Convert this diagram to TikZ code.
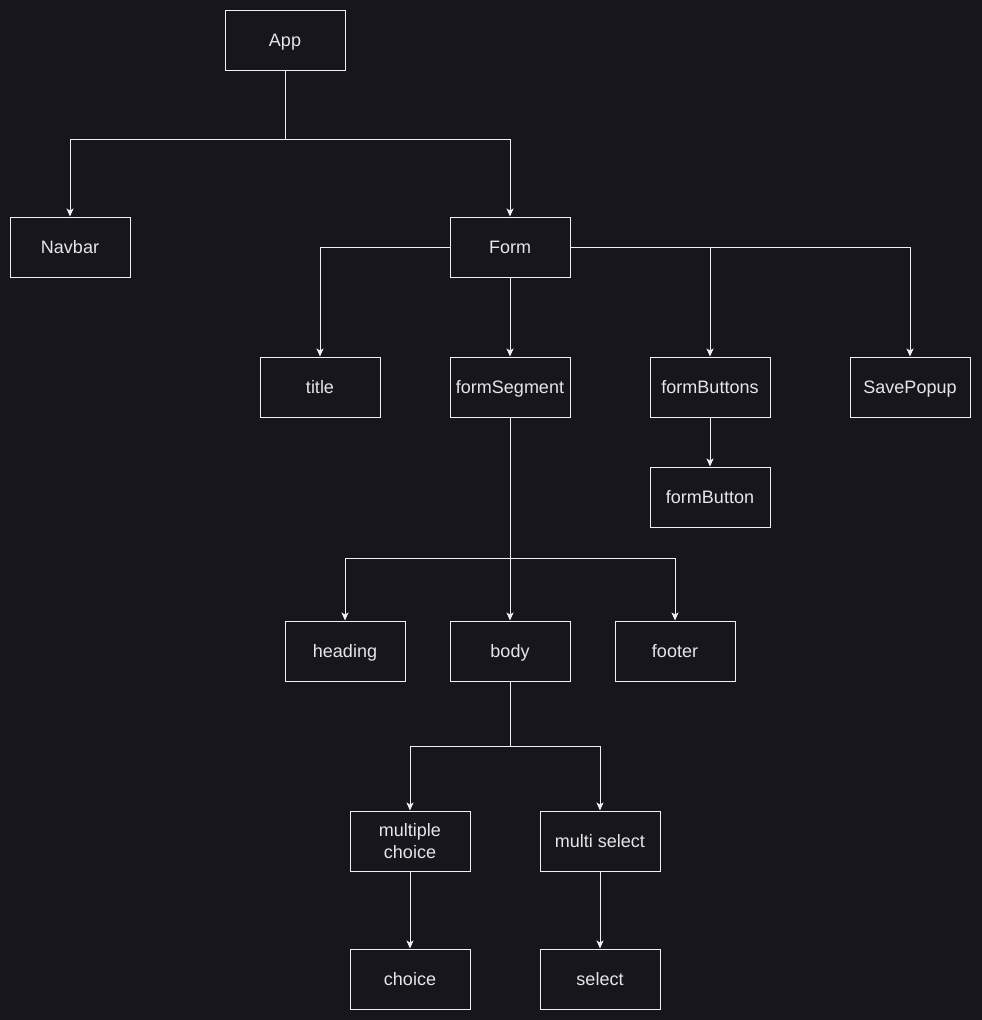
\documentclass[tikz,border=0pt]{standalone}
\usepackage{fontspec}
\setmainfont{Liberation Sans}
\usetikzlibrary{arrows.meta}
\definecolor{bg}{HTML}{18161D}
\definecolor{fg}{HTML}{F0F0F0}
\definecolor{txt}{HTML}{E6E6E6}
\begin{document}
\begin{tikzpicture}[x=1pt,y=-1pt,
  box/.style={draw=fg,line width=1pt,minimum width=120pt,minimum height=60pt,inner sep=0pt,text=txt,font=\fontsize{18}{22}\selectfont,align=center,text height=14pt,text depth=1pt},
  conn/.style={draw=fg,line width=1pt,-{Stealth[length=8pt,width=7pt,inset=2pt]}},
  plain/.style={draw=fg,line width=1pt}]
\fill[bg] (0,0) rectangle (982,1020);
\useasboundingbox (0,0) rectangle (982,1020);
\node[box] (app) at (285,40) {App};
\node[box] (navbar) at (70,247) {Navbar};
\node[box] (form) at (510,247) {Form};
\node[box] (title) at (320,387) {title};
\node[box] (seg) at (510,387) {formSegment};
\node[box] (btns) at (710,387) {formButtons};
\node[box] (save) at (910,387) {SavePopup};
\node[box] (btn) at (710,497) {formButton};
\node[box] (heading) at (345,651) {heading};
\node[box] (body) at (510,651) {body};
\node[box] (footer) at (675,651) {footer};
\node[box,text height=,text depth=] (mc) at (410,841) {multiple\\choice};
\node[box] (ms) at (600,841) {multi select};
\node[box] (choice) at (410,979) {choice};
\node[box] (select) at (600,979) {select};
\coordinate (j1) at (285,139);
\coordinate (j2) at (510,558);
\coordinate (j3) at (510,746);
\draw[plain] (app.south) -- (j1);
\draw[conn] (j1) -| (navbar.north);
\draw[conn] (j1) -| (form.north);
\draw[conn] (form.west) -| (title.north);
\draw[conn] (form.south) -- (seg.north);
\draw[conn] (form.east) -| (btns.north);
\draw[conn] (form.east) -| (save.north);
\draw[conn] (btns.south) -- (btn.north);
\draw[plain] (seg.south) -- (j2);
\draw[conn] (j2) -| (heading.north);
\draw[conn] (j2) -- (body.north);
\draw[conn] (j2) -| (footer.north);
\draw[plain] (body.south) -- (j3);
\draw[conn] (j3) -| (mc.north);
\draw[conn] (j3) -| (ms.north);
\draw[conn] (mc.south) -- (choice.north);
\draw[conn] (ms.south) -- (select.north);
\end{tikzpicture}
\end{document}
